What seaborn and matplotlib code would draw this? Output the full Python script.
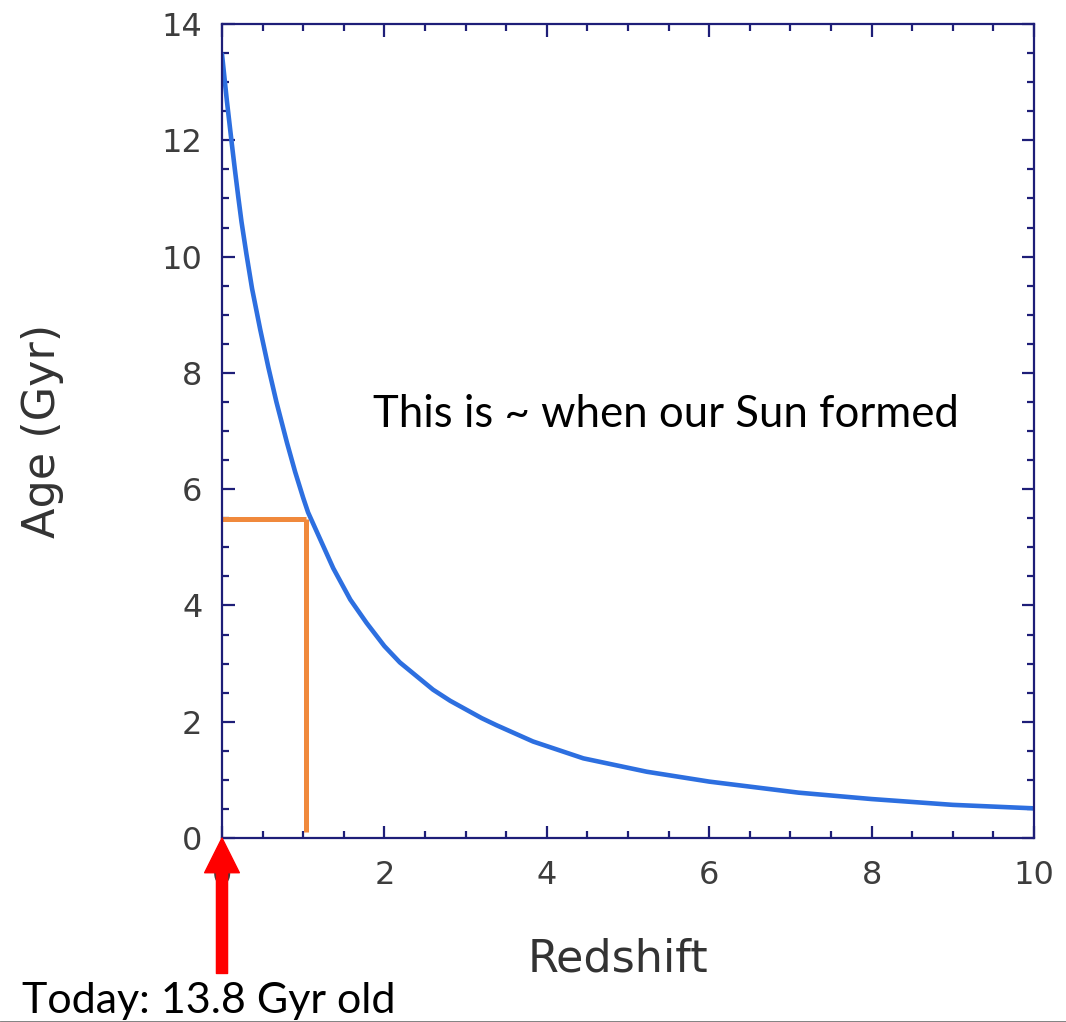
import matplotlib
matplotlib.use("Agg")
import matplotlib.pyplot as plt
import seaborn as sns
import pandas as pd
from matplotlib.ticker import MultipleLocator
from matplotlib.lines import Line2D

# Data
redshift = [0, 0.06, 0.12, 0.16, 0.20, 0.24, 0.30, 0.37, 0.47, 0.57, 0.67, 0.80,
            0.90, 1.0, 1.06, 1.37, 1.58, 1.78, 2.0, 2.19, 2.6, 2.81, 3.2, 3.38,
            3.83, 4.45, 5.23, 6.0, 7.1, 8.0, 9.0, 10.0]
age_gyr = [13.48, 12.68, 11.95, 11.48, 11.03, 10.6, 10.05, 9.45, 8.75, 8.1, 7.5, 6.8,
           6.3, 5.85, 5.6, 4.64, 4.1, 3.7, 3.3, 3.02, 2.55, 2.36, 2.06, 1.94,
           1.66, 1.37, 1.14, 0.97, 0.78, 0.67, 0.57, 0.51]
sun_z = 1.03
sun_age = 5.49
sun_floor = 0.11
x_ticks = [0, 2, 4, 6, 8, 10]
y_ticks = [0, 2, 4, 6, 8, 10, 12, 14]
note_text = "This is ~ when our Sun formed"
today_text = "Today: 13.8 Gyr old"

df = pd.DataFrame({"Redshift": redshift, "Age": age_gyr})

sns.set_style("ticks")
plt.rcParams['font.family'] = ['DejaVu Sans']

fig = plt.figure(figsize=(10.66, 10.22), dpi=100)
ax = fig.add_axes([222/1066, 1-838/1022, (1034-222)/1066, (838-24)/1022])

sns.lineplot(data=df, x="Redshift", y="Age", ax=ax, color="#2d6fe0", linewidth=3.3)

# Orange marker lines
ax.plot([0, sun_z], [sun_age, sun_age], color="#f0893c", linewidth=3.6, solid_capstyle="butt")
ax.plot([sun_z, sun_z], [sun_floor, sun_age], color="#f0893c", linewidth=3.6, solid_capstyle="butt")

ax.set_xlim(0, 10)
ax.set_ylim(0, 14)
ax.set_xticks(x_ticks)
ax.set_yticks(y_ticks)
ax.xaxis.set_minor_locator(MultipleLocator(0.5))
ax.yaxis.set_minor_locator(MultipleLocator(0.5))

navy = "#1e1e78"
for s in ax.spines.values():
    s.set_color(navy)
    s.set_linewidth(1.6)
ax.tick_params(which="both", direction="in", top=True, right=True, color=navy, width=1.6)
ax.tick_params(which="major", length=9, labelsize=23, labelcolor="#3d3d3d")
ax.tick_params(which="minor", length=5)
ax.tick_params(axis="x", which="major", pad=16)
ax.tick_params(axis="y", which="major", pad=14)

ax.set_xlabel("Redshift", fontsize=32, color="#333333")
ax.set_ylabel("Age (Gyr)", fontsize=32, color="#333333")
ax.xaxis.set_label_coords(0.488, -0.122)
ax.yaxis.set_label_coords(-0.195, 0.5)

ax.text(1.86, 7.28, note_text, fontsize=31.5, family=["Lato", "DejaVu Sans"],
        color="black", va="center", ha="left")

# Red arrow pointing to today (z = 0)
ax.annotate("", xy=(0, 0), xytext=(0, -2.33), xycoords="data", textcoords="data",
            annotation_clip=False,
            arrowprops=dict(facecolor="#ff0000", edgecolor="#ff0000", width=8.0,
                            headwidth=25, headlength=25, shrink=0))

fig.text(22/1066, 1-1013/1022, today_text, fontsize=31, family=["Lato", "DejaVu Sans"],
         color="black", va="baseline", ha="left")

fig.add_artist(Line2D([0, 1], [0.5/1022, 0.5/1022], transform=fig.transFigure,
                      color="#777777", linewidth=2))

fig.savefig("out.png", dpi=100)
